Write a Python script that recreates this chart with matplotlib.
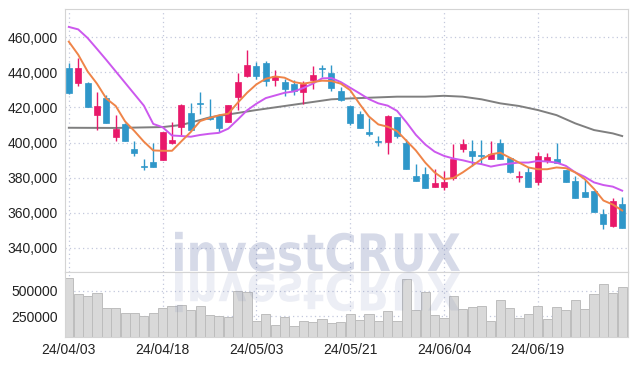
import numpy as np
import matplotlib
matplotlib.use("Agg")
import matplotlib.pyplot as plt
from matplotlib.patches import Rectangle, PathPatch
from matplotlib.textpath import TextPath
from matplotlib.font_manager import FontProperties, fontManager
from matplotlib.transforms import Affine2D

installed = {f.name for f in fontManager.ttflist}
fams = [f for f in ['DejaVu Sans Condensed', 'Liberation Sans Narrow', 'Liberation Sans'] if f in installed]
plt.rcParams['font.family'] = fams + ['DejaVu Sans']
narrow = fams and fams[0] != 'Liberation Sans'
lab_size = 11 if narrow else 10

# x tick labels (every 10 trading days)
tick_idx = [0, 10, 20, 30, 40, 50]
tick_labels = ['24/04/03', '24/04/18', '24/05/03', '24/05/21', '24/06/04', '24/06/19']

opens = [442400, 433800, 433700, 415800, 425100, 403100, 410300, 396500, 386800, 388700,
         390000, 399700, 408800, 417000, 422300, 414300, 414900, 411700, 425900, 437800,
         443300, 445200, 435500, 434200, 433500, 428700, 435700, 442400, 439700, 429500,
         420600, 416200, 405900, 400800, 400400, 414400, 399900, 380900, 382000, 374500,
         374500, 379800, 396100, 395200, 393100, 390500, 399500, 391000, 380100, 383300,
         377300, 389500, 390900, 384500, 377900, 372100, 372600, 359100, 352300, 365100]
highs = [445200, 448000, 434400, 428700, 426800, 415800, 411300, 401000, 390800, 399700,
         405800, 411700, 422100, 422700, 428700, 424900, 416200, 421100, 439500, 452800,
         445600, 446200, 441400, 436300, 435400, 435000, 443500, 444300, 444300, 431600,
         420600, 417700, 414000, 403600, 415900, 414400, 402100, 388000, 385800, 384700,
         383900, 398900, 401800, 401200, 401200, 400800, 401800, 392000, 383900, 385800,
         394600, 394200, 399500, 384500, 381100, 378600, 372600, 362300, 368500, 368900]
lows = [427500, 432100, 420200, 407300, 411100, 401000, 400800, 392300, 384500, 386100,
        390000, 399300, 404100, 407100, 416000, 412600, 406000, 411700, 418700, 437300,
        436300, 431900, 432100, 426300, 427200, 421700, 430600, 437300, 429500, 423400,
        409700, 408000, 403600, 398000, 393300, 402700, 384700, 378300, 373900, 374500,
        373000, 378600, 394800, 386700, 387700, 390500, 390900, 382400, 377300, 374500,
        376000, 388200, 388600, 377300, 368300, 368900, 360400, 351000, 351900, 351600]
closes = [428200, 442400, 420200, 420600, 411100, 407900, 400800, 394000, 386100, 386100,
          405800, 401200, 421500, 407100, 421700, 413200, 408200, 421100, 434200, 443900,
          437800, 435000, 437600, 430400, 429100, 433500, 438600, 441800, 431000, 424400,
          411200, 408000, 405000, 400400, 414900, 403600, 384700, 378300, 373900, 377000,
          377700, 390900, 398900, 392400, 392200, 393700, 390900, 383000, 381100, 374500,
          392400, 391800, 388600, 377300, 368300, 368900, 360400, 353800, 367000, 351600]
volume = [621700, 467100, 447400, 473700, 325700, 325700, 276300, 276300, 250000, 276300,
          325700, 348700, 358600, 309200, 348700, 259900, 250000, 236800, 493400, 483600,
          200700, 266400, 161200, 243400, 151300, 200700, 190800, 217100, 177600, 190800,
          269700, 210500, 269700, 200700, 299300, 200700, 611800, 309200, 483600, 259900,
          227000, 447400, 315800, 335500, 348700, 200700, 407900, 325700, 227000, 269700,
          348700, 217100, 335500, 309200, 407900, 315800, 467100, 565800, 473700, 532900]

ma5 = [457400, 450000, 440500, 433500, 425000, 420800, 412000, 406500, 400500, 395500,
       395300, 395300, 400700, 406000, 412200, 414000, 415500, 416400, 422600, 428300,
       433100, 436300, 437600, 436900, 434400, 433500, 434400, 435200, 435000, 433500,
       429800, 422000, 414800, 410300, 409000, 406500, 401000, 395500, 388600, 383000,
       379200, 379800, 383000, 386700, 390500, 393300, 394200, 391400, 388600, 385800,
       384800, 384800, 385800, 385400, 383000, 379200, 373600, 367000, 364700, 361300]
ma10 = [465800, 464400, 459500, 453300, 447000, 440500, 434000, 427500, 421000, 410600,
        408700, 404000, 403700, 403300, 404300, 405000, 405500, 407900, 413000, 418300,
        422100, 425300, 426800, 428300, 429100, 431000, 433500, 436500, 436700, 434400,
        431200, 428000, 424700, 422300, 421000, 418000, 411500, 404400, 398900, 394800,
        392400, 390900, 389900, 388600, 387700, 386300, 387300, 388000, 388600, 388600,
        389500, 389200, 388600, 386700, 383000, 380500, 377300, 375800, 374900, 372600]
ma_long_idx = [0, 5, 10, 12, 14, 15, 20, 25, 28, 30, 35, 38, 40, 42, 44, 46, 48, 50, 52, 54, 56, 58, 59]
ma_long = [408400, 408300, 408800, 410000, 412800, 414300, 418500, 422300, 424600, 425100,
           426100, 426100, 426600, 426100, 424600, 422300, 420800, 418500, 415600, 410900,
           407100, 405200, 403700]

up_col = '#e8196a'
down_col = '#2f97c9'
grid_col = '#c3c8dc'
spine_col = '#d4d4d4'

fig = plt.figure(figsize=(6.38, 3.66), dpi=100)
ax = fig.add_axes([0.102, 0.2568, 0.882, 0.7186])
axv = fig.add_axes([0.102, 0.0792, 0.882, 0.1776], sharex=ax)

x = np.arange(len(closes))
for i in x:
    o, h, l, c = opens[i], highs[i], lows[i], closes[i]
    col = up_col if c >= o else down_col
    ax.vlines(i, l, h, color=col, linewidth=1.0, zorder=3)
    bottom = min(o, c)
    height = max(abs(c - o), 600)
    ax.add_patch(Rectangle((i - 0.32, bottom), 0.64, height, facecolor=col,
                           edgecolor=col, linewidth=0.5, zorder=4))

ax.plot(ma_long_idx, ma_long, color='#7f7f7f', linewidth=1.4, zorder=2)
ax.plot(x, ma10, color='#cc58ee', linewidth=1.4, zorder=5)
ax.plot(x, ma5, color='#ef8448', linewidth=1.4, zorder=5)

ax.set_xlim(-0.4, 59.6)
ax.set_ylim(326300, 476000)
yt = list(range(340000, 460001, 20000))
ax.set_yticks(yt)
ax.set_yticklabels(['{:,}'.format(v) for v in yt])
ax.set_xticks(tick_idx)
ax.tick_params(axis='x', labelbottom=False, length=0)
ax.tick_params(axis='y', length=0, labelsize=lab_size, pad=5, colors='#222222')
ax.grid(True, linestyle=(0, (1, 2.5)), color=grid_col, linewidth=0.9)
ax.set_axisbelow(True)
for s in ax.spines.values():
    s.set_color(spine_col)

axv.bar(x, volume, width=0.98, color='#d9d9d9', edgecolor='#bdbdbd', linewidth=0.7, zorder=2)
axv.set_ylim(42500, 684500)
axv.set_yticks([250000, 500000])
axv.set_yticklabels(['250000', '500000'])
axv.set_xticks(tick_idx)
axv.set_xticklabels(tick_labels)
axv.tick_params(length=0, labelsize=lab_size, colors='#222222')
axv.tick_params(axis='y', pad=5)
axv.tick_params(axis='x', pad=4)
axv.grid(True, linestyle=(0, (1, 2.5)), color=grid_col, linewidth=0.9)
axv.set_axisbelow(True)
for s in axv.spines.values():
    s.set_color(spine_col)

# watermark with mirrored reflection
fp = FontProperties(family='DejaVu Sans', weight='bold')
tp = TextPath((0, 0), 'investCRUX', size=100, prop=fp)
ext = tp.get_extents()
cap = TextPath((0, 0), 'C', size=100, prop=fp).get_extents().height
sx = 285 / ext.width
sy = 39 / cap
x0, base = 175, 366 - 272
wm = Affine2D().translate(-ext.x0, 0).scale(sx, sy).translate(x0, base + 1)
fig.add_artist(PathPatch(tp, transform=wm, facecolor='#6a78ad', edgecolor='none',
                         alpha=0.27, zorder=10))
rf = Affine2D().translate(-ext.x0, 0).scale(sx, -sy).translate(x0, base - 1)
fig.add_artist(PathPatch(tp, transform=rf, facecolor='#6a78ad', edgecolor='none',
                         alpha=0.12, zorder=10))

fig.savefig('out.png', dpi=100)
